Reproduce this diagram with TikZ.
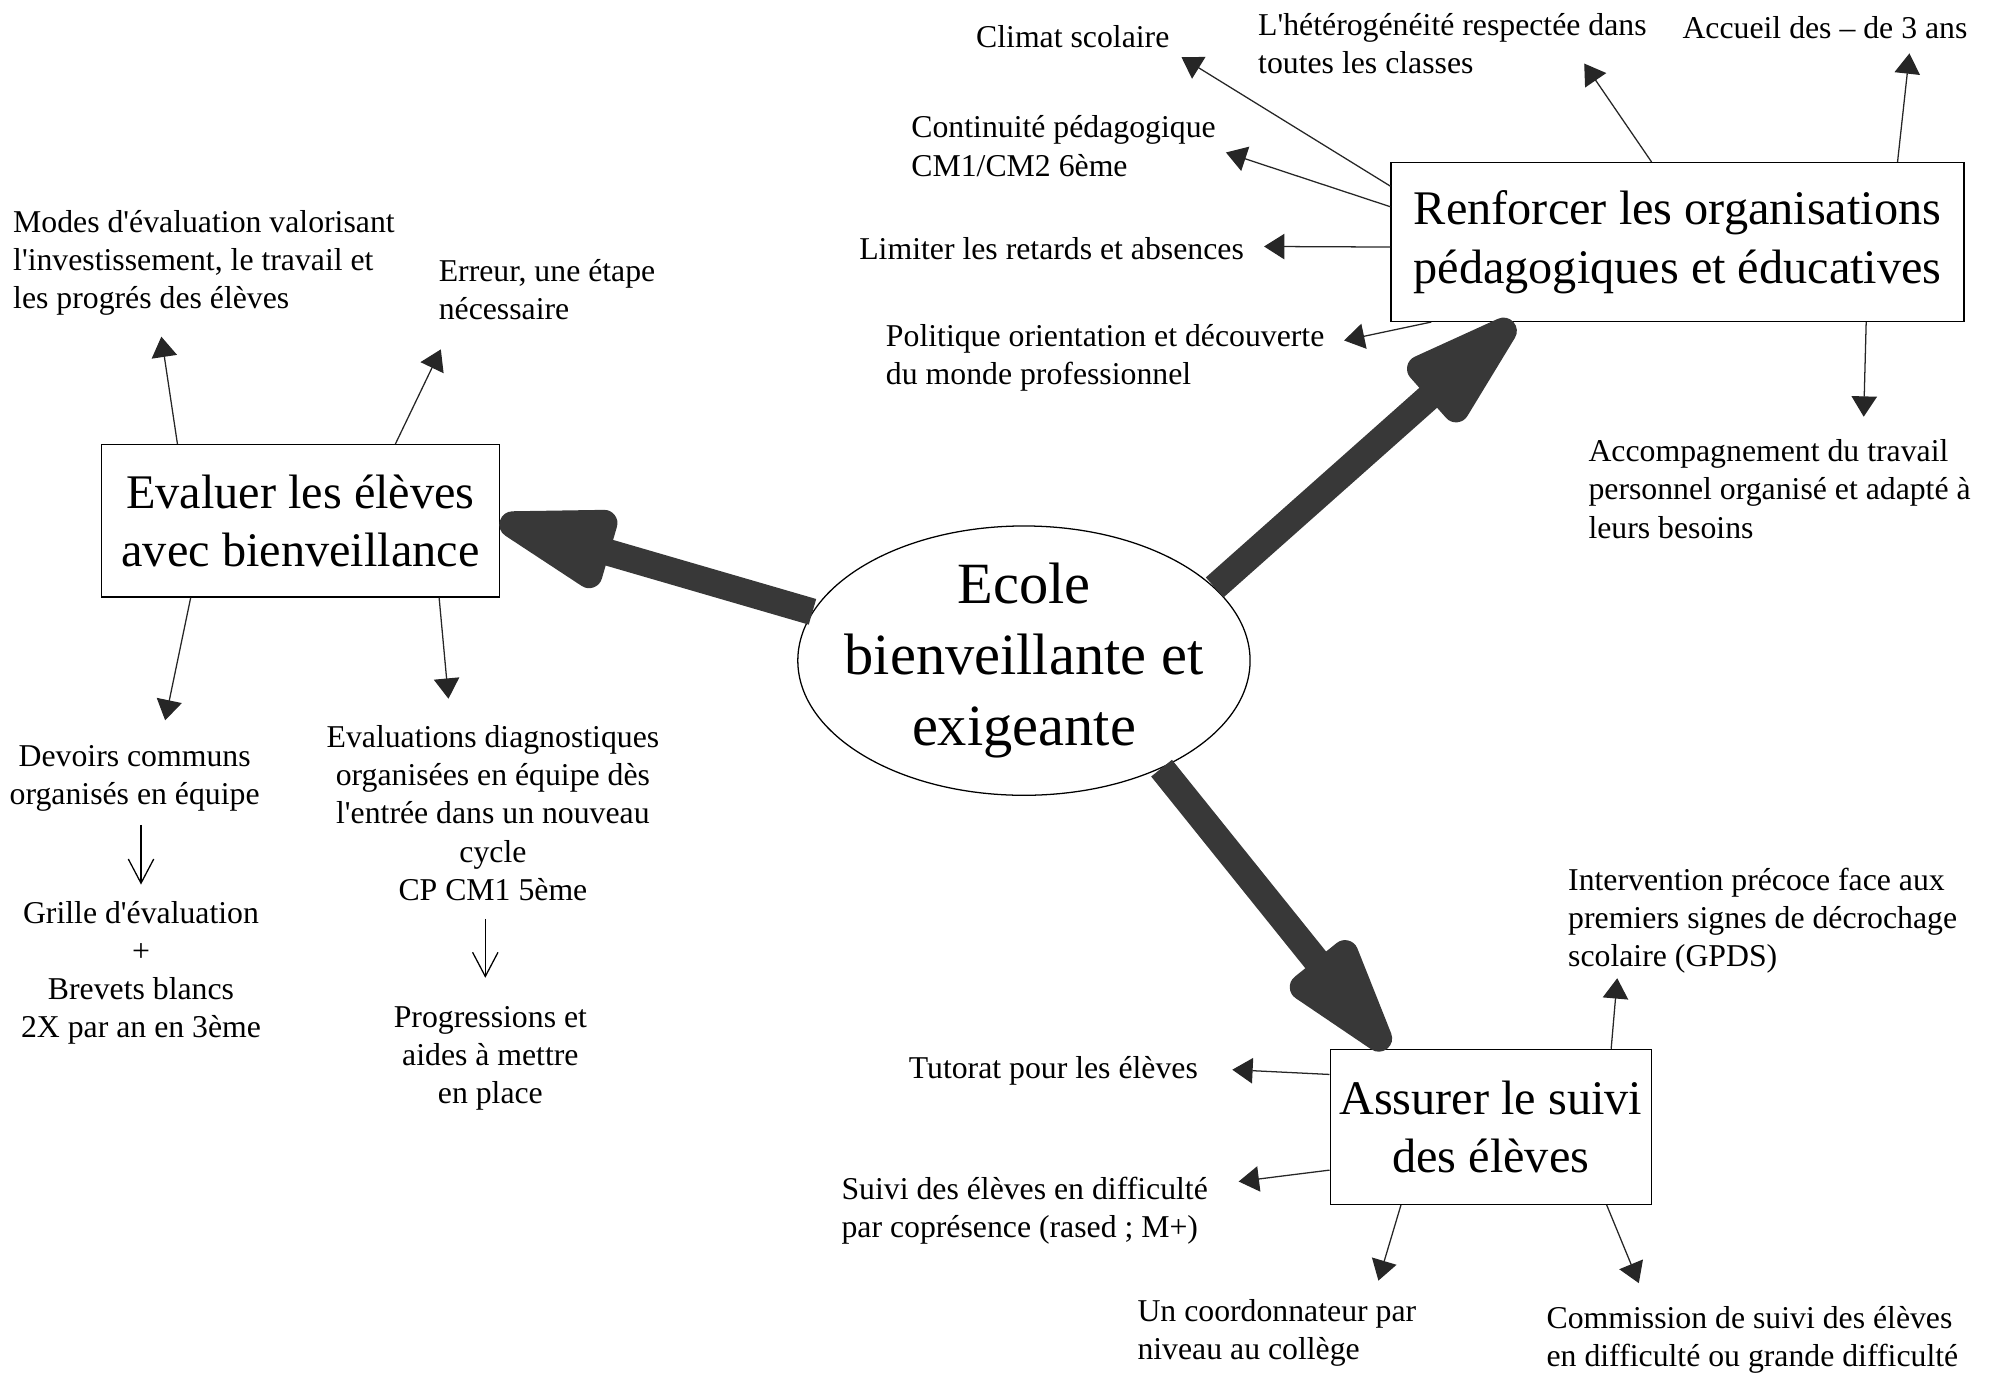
\documentclass[tikz,border=0pt]{standalone}
\usepackage{fontspec}
\setmainfont{Liberation Serif}
\usetikzlibrary{arrows.meta, shapes.geometric}

\newcommand{\ap}{\textquotesingle}

\tikzset{
  leaf/.style={inner sep=0pt, font=\fontsize{12.5}{15}\selectfont, align=left, anchor=west},
  leafc/.style={leaf, align=center, anchor=center},
  goal/.style={draw, line width=0.5pt, inner sep=0pt, font=\fontsize{19}{23}\selectfont, align=center},
  hub/.style={draw, ellipse, line width=0.5pt, inner xsep=-10pt, inner ysep=-5pt,
    minimum width=178pt, minimum height=106pt, font=\fontsize{23}{28}\selectfont, align=center},
  bigarrow/.style={line width=10.5pt, draw=black!78, -{Triangle[round, length=60pt, width=32pt]}},
  thinarrow/.style={line width=0.5pt, draw=black!85, -{Triangle[length=8pt, width=10pt]}},
  openarrow/.style={line width=0.5pt, -{Straight Barb[length=9.5pt, width=10pt]}}
}

\begin{document}
\begin{tikzpicture}[x=0.5pt, y=-0.5pt]
\useasboundingbox (0,0) rectangle (1568,1084);

% centre and the three goals
\node[hub] (E) at (806,520) {Ecole\\bienveillante et\\exigeante};
\node[goal, minimum width=156.5pt, minimum height=60pt] (L) at (236.5,410) {Evaluer les élèves\\avec bienveillance};
\node[goal, minimum width=225.5pt, minimum height=62.5pt] (R) at (1320.5,190.5) {Renforcer les organisations\\pédagogiques et éducatives};
\node[goal, minimum width=126.5pt, minimum height=61pt] (B) at (1173.5,887) {Assurer le suivi\\des élèves};

\draw[bigarrow] (E.167) -- (L.east);
\draw[bigarrow] (E.21) -- (R.206);
\draw[bigarrow] (E.-38) -- (B.143);

% evaluer
\node[leaf] (Modes) at (10,207) {Modes d\ap évaluation valorisant\\l\ap investissement, le travail et\\les progrés des élèves};
\node[leaf] (Erreur) at (345,228) {Erreur, une étape\\nécessaire};
\node[leafc] (Devoirs) at (106,613) {Devoirs communs\\organisés en équipe};
\node[leafc] (Grille) at (111,766) {Grille d\ap évaluation\\+\\Brevets blancs\\2X par an en 3ème};
\node[leafc] (Eval) at (388,640) {Evaluations diagnostiques\\organisées en équipe dès\\l\ap entrée dans un nouveau\\cycle\\CP CM1 5ème};
\node[leafc] (Progr) at (386,833) {Progressions et\\aides à mettre\\en place};

\coordinate (tModes) at (127,265);
\coordinate (tErreur) at (347,275);
\coordinate (tDevoirs) at (130,567);
\coordinate (tEval) at (353,550);

\draw[thinarrow] (L.148) -- (tModes);
\draw[thinarrow] (L.39) -- (tErreur);
\draw[thinarrow] (L.215) -- (tDevoirs);
\draw[thinarrow] (L.-29) -- (tEval);
\draw[openarrow, shorten <=5pt, shorten >=6.5pt] (Devoirs.south -| Grille.north) -- (Grille.north);
\draw[openarrow, shorten <=7pt, shorten >=11pt] ([xshift=-3pt]Eval.south) -- ([xshift=-3pt]Eval.south |- Progr.north);

% renforcer
\node[leaf] (Climat) at (768,29) {Climat scolaire};
\node[leaf] (Hetero) at (990,34.5) {L\ap hétérogénéité respectée dans\\toutes les classes};
\node[leaf] (Accueil) at (1324,22) {Accueil des – de 3 ans};
\node[leaf] (Contin) at (717,115) {Continuité pédagogique\\CM1/CM2 6ème};
\node[leaf] (Limiter) at (676,196) {Limiter les retards et absences};
\node[leaf] (Polit) at (697,281.5) {Politique orientation et découverte\\du monde professionnel};
\node[leaf] (Accomp) at (1250,385) {Accompagnement du travail\\personnel organisé et adapté à\\leurs besoins};

\coordinate (tClimat) at (930,45);
\coordinate (tHetero) at (1247,50);
\coordinate (tAccueil) at (1503,42);
\coordinate (tContin) at (965,120);
\coordinate (tLimiter) at (995,194);
\coordinate (tPolit) at (1058,268);
\coordinate (tAccomp) at (1467,328);

\draw[thinarrow] (R.169) -- (tClimat);
\draw[thinarrow] (R.108) -- (tHetero);
\draw[thinarrow] (R.20) -- (tAccueil);
\draw[thinarrow] (R.173) -- (tContin);
\draw[thinarrow] (R.181) -- (tLimiter);
\draw[thinarrow] (R.198) -- (tPolit);
\draw[thinarrow] (R.-23) -- (tAccomp);

% suivi
\node[leaf] (Interv) at (1234,725) {Intervention précoce face aux\\premiers signes de décrochage\\scolaire (GPDS)};
\node[leaf] (Tutorat) at (715,843) {Tutorat pour les élèves};
\node[leaf] (Suivi) at (662,953) {Suivi des élèves en difficulté\\par coprésence (rased ; M+)};
\node[leaf] (Coord) at (895,1049) {Un coordonnateur par\\niveau au collège};
\node[leaf] (Comm) at (1217,1055) {Commission de suivi des élèves\\en difficulté ou grande difficulté};

\coordinate (tInterv) at (1273,770);
\coordinate (tTutorat) at (970,842);
\coordinate (tSuivi) at (975,930);
\coordinate (tCoord) at (1085,1008);
\coordinate (tComm) at (1290,1010);

\draw[thinarrow] (B.33) -- (tInterv);
\draw[thinarrow] (B.162) -- (tTutorat);
\draw[thinarrow] (B.195) -- (tSuivi);
\draw[thinarrow] (B.221) -- (tCoord);
\draw[thinarrow] (B.-34) -- (tComm);
\end{tikzpicture}
\end{document}
